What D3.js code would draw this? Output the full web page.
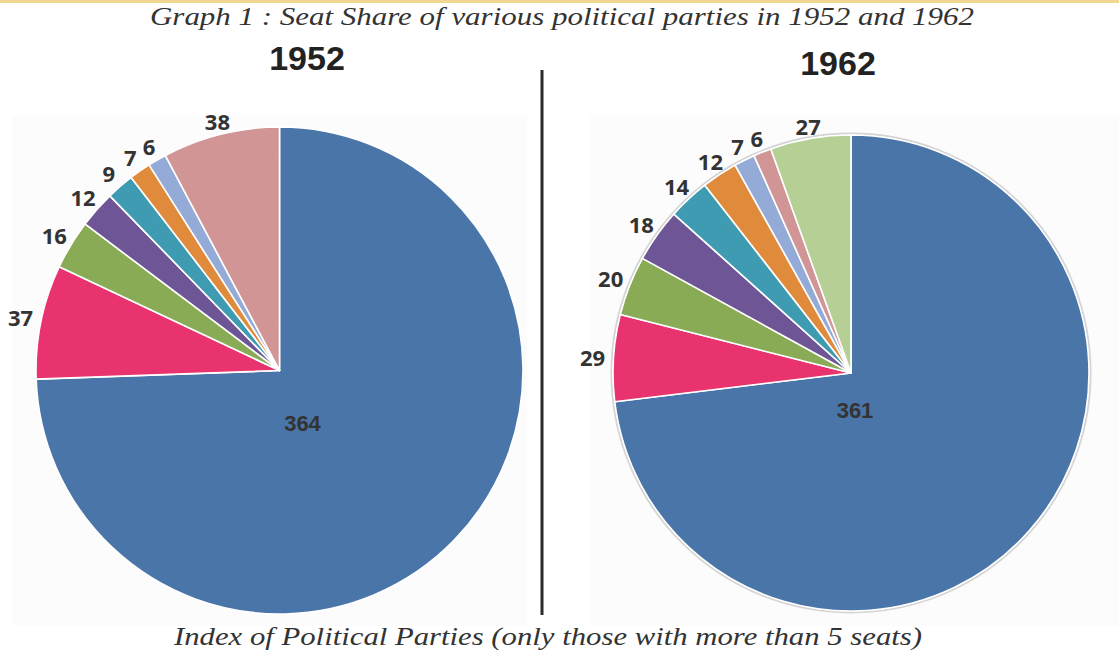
<!DOCTYPE html>
<html><head><meta charset="utf-8">
<script src="https://cdn.jsdelivr.net/npm/d3@7"></script>
<style>html,body{margin:0;padding:0;background:#fff;overflow:hidden}</style>
</head><body>
<svg id="c" width="1119" height="650"></svg>
<script>
const parties1952 = ["P1","P2","P3","P4","P5","P6","P7","Others"];
const seats1952 = [364, 37, 16, 12, 9, 7, 6, 38];
const colors1952 = ["#4a75a8","#e8336e","#8aab55","#6e5696","#3e9bb1","#e08a3b","#94abd7","#d19596"];

const parties1962 = ["P1","P2","P3","P4","P5","P6","P7","P8","Others"];
const seats1962 = [361, 29, 20, 18, 14, 12, 7, 6, 27];
const colors1962 = ["#4a75a8","#e8336e","#8aab55","#6e5696","#3e9bb1","#e08a3b","#94abd7","#d19596","#b6cf95"];

const years = ["1952","1962"];
const title = "Graph 1 : Seat Share of  various political parties in 1952 and 1962";
const footer = "Index of Political Parties (only those with more than 5 seats)";

const svg = d3.select("#c");

// top golden rule
svg.append("rect").attr("x",0).attr("y",0).attr("width",1119).attr("height",3).attr("fill","#f2d88e");

// faint panels
svg.append("rect").attr("x",12).attr("y",116).attr("width",515).attr("height",510).attr("fill","#fcfcfc");
svg.append("rect").attr("x",590).attr("y",116).attr("width",529).attr("height",510).attr("fill","#fcfcfc");

svg.append("text").attr("x",562).attr("y",25).attr("text-anchor","middle")
  .attr("font-family","Liberation Serif, serif").attr("font-style","italic")
  .attr("font-size",26).attr("fill","#333")
  .attr("textLength",824).attr("lengthAdjust","spacingAndGlyphs").text(title);

svg.append("text").attr("x",548).attr("y",645).attr("text-anchor","middle")
  .attr("font-family","Liberation Serif, serif").attr("font-style","italic")
  .attr("font-size",25).attr("fill","#333")
  .attr("textLength",748).attr("lengthAdjust","spacingAndGlyphs").text(footer);

svg.append("line").attr("x1",542).attr("x2",542).attr("y1",70).attr("y2",615)
  .attr("stroke","#2b2b2b").attr("stroke-width",3);

function drawPie(cfg){
  const g = svg.append("g").attr("transform",`translate(${cfg.cx},${cfg.cy})`);
  const pie = d3.pie().sort(null).value(d=>d)(cfg.values);
  const arc = d3.arc().innerRadius(0).outerRadius(cfg.r);
  if (cfg.shadow){
    g.append("circle").attr("r",cfg.r+1.5).attr("fill","none")
      .attr("stroke","#c9c9c9").attr("stroke-width",2).attr("opacity",0.8);
  }
  g.selectAll("path").data(pie).join("path")
    .attr("d",arc).attr("fill",(d,i)=>cfg.colors[i])
    .attr("stroke","#fff").attr("stroke-width",1.6).attr("stroke-linejoin","round");
  g.selectAll("text.lbl").data(pie.slice(1)).join("text").attr("class","lbl")
    .each(function(d){
      const a = (d.startAngle+d.endAngle)/2;
      const R = cfg.r + 11 + 10*Math.abs(Math.sin(a));
      d3.select(this).attr("x",R*Math.sin(a)).attr("y",-R*Math.cos(a));
    })
    .attr("text-anchor","middle").attr("dominant-baseline","central")
    .attr("font-family","Open Sans, DejaVu Sans, sans-serif").attr("font-weight","bold")
    .attr("font-size",22).attr("fill","#333").text(d=>d.data);
  g.append("text").attr("x",cfg.innerDx).attr("y",cfg.innerDy)
    .attr("text-anchor","middle").attr("dominant-baseline","central")
    .attr("font-family","Liberation Sans, Arial, sans-serif").attr("font-weight","bold")
    .attr("font-size",22).attr("fill","#333").text(cfg.values[0]);
  svg.append("text").attr("x",cfg.yx).attr("y",cfg.yy).attr("text-anchor","middle")
    .attr("font-family","Liberation Sans, Arial, sans-serif").attr("font-weight","bold")
    .attr("font-size",34).attr("fill","#222").text(cfg.year);
}

drawPie({cx:279.5, cy:370.5, r:243.5, values:seats1952, colors:colors1952,
  innerDx:23, innerDy:53, year:years[0], yx:307, yy:70, shadow:false});
drawPie({cx:851, cy:373, r:238, values:seats1962, colors:colors1962,
  innerDx:4, innerDy:37, year:years[1], yx:838, yy:75, shadow:true});
</script>
</body></html>
